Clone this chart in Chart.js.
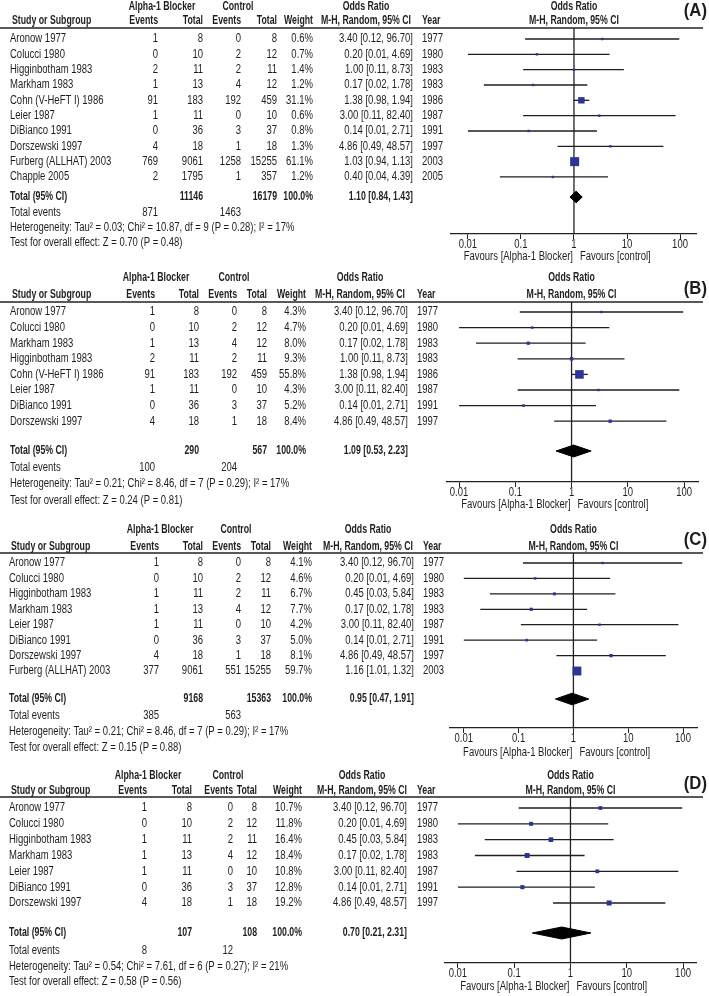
<!DOCTYPE html>
<html>
<head>
<meta charset="utf-8">
<script src="https://cdn.jsdelivr.net/npm/chart.js@4.4.1/dist/chart.umd.min.js"></script>
<style>
  html, body { margin: 0; padding: 0; background: #fff; }
  #wrap { position: relative; width: 709px; height: 996px; overflow: hidden; }
  #wrap canvas { position: absolute; left: 0; }
</style>
</head>
<body>
<div id="wrap"></div>
<script>
// ---- data: panel A (all studies) ----
const studiesA = ["Aronow 1977", "Colucci 1980", "Higginbotham 1983", "Markham 1983", "Cohn (V-HeFT I) 1986", "Leier 1987", "DiBianco 1991", "Dorszewski 1997", "Furberg (ALLHAT) 2003", "Chapple 2005"];
const blockEvA = [1, 0, 2, 1, 91, 1, 0, 4, 769, 2];
const blockNA = [8, 10, 11, 13, 183, 11, 36, 18, 9061, 1795];
const ctrlEvA = [0, 2, 2, 4, 192, 0, 3, 1, 1258, 1];
const ctrlNA = [8, 12, 11, 12, 459, 10, 37, 18, 15255, 357];
const weightA = [0.6, 0.7, 1.4, 1.2, 31.1, 0.6, 0.8, 1.3, 61.1, 1.2];
const orA = [3.40, 0.20, 1.00, 0.17, 1.38, 3.00, 0.14, 4.86, 1.03, 0.40];
const loA = [0.12, 0.01, 0.11, 0.02, 0.98, 0.11, 0.01, 0.49, 0.94, 0.04];
const hiA = [96.70, 4.69, 8.73, 1.78, 1.94, 82.40, 2.71, 48.57, 1.13, 4.39];
const yearA = [1977, 1980, 1983, 1983, 1986, 1987, 1991, 1997, 2003, 2005];
const totNA = [11146, 16179];
const totEvA = [871, 1463];
const pooledA = [1.10, 0.84, 1.43];
const hetA = "Heterogeneity: Tau² = 0.03; Chi² = 10.87, df = 9 (P = 0.28); I² = 17%";
const testA = "Test for overall effect: Z = 0.70 (P = 0.48)";

// ---- data: panel B ----
const studiesB = ["Aronow 1977", "Colucci 1980", "Markham 1983", "Higginbotham 1983", "Cohn (V-HeFT I) 1986", "Leier 1987", "DiBianco 1991", "Dorszewski 1997"];
const blockEvB = [1, 0, 1, 2, 91, 1, 0, 4];
const blockNB = [8, 10, 13, 11, 183, 11, 36, 18];
const ctrlEvB = [0, 2, 4, 2, 192, 0, 3, 1];
const ctrlNB = [8, 12, 12, 11, 459, 10, 37, 18];
const weightB = [4.3, 4.7, 8.0, 9.3, 55.8, 4.3, 5.2, 8.4];
const orB = [3.40, 0.20, 0.17, 1.00, 1.38, 3.00, 0.14, 4.86];
const loB = [0.12, 0.01, 0.02, 0.11, 0.98, 0.11, 0.01, 0.49];
const hiB = [96.70, 4.69, 1.78, 8.73, 1.94, 82.40, 2.71, 48.57];
const yearB = [1977, 1980, 1983, 1983, 1986, 1987, 1991, 1997];
const totNB = [290, 567];
const totEvB = [100, 204];
const pooledB = [1.09, 0.53, 2.23];
const hetB = "Heterogeneity: Tau² = 0.21; Chi² = 8.46, df = 7 (P = 0.29); I² = 17%";
const testB = "Test for overall effect: Z = 0.24 (P = 0.81)";

// ---- data: panel C ----
const studiesC = ["Aronow 1977", "Colucci 1980", "Higginbotham 1983", "Markham 1983", "Leier 1987", "DiBianco 1991", "Dorszewski 1997", "Furberg (ALLHAT) 2003"];
const blockEvC = [1, 0, 1, 1, 1, 0, 4, 377];
const blockNC = [8, 10, 11, 13, 11, 36, 18, 9061];
const ctrlEvC = [0, 2, 2, 4, 0, 3, 1, 551];
const ctrlNC = [8, 12, 11, 12, 10, 37, 18, 15255];
const weightC = [4.1, 4.6, 6.7, 7.7, 4.2, 5.0, 8.1, 59.7];
const orC = [3.40, 0.20, 0.45, 0.17, 3.00, 0.14, 4.86, 1.16];
const loC = [0.12, 0.01, 0.03, 0.02, 0.11, 0.01, 0.49, 1.01];
const hiC = [96.70, 4.69, 5.84, 1.78, 82.40, 2.71, 48.57, 1.32];
const yearC = [1977, 1980, 1983, 1983, 1987, 1991, 1997, 2003];
const totNC = [9168, 15363];
const totEvC = [385, 563];
const pooledC = [0.95, 0.47, 1.91];
const hetC = "Heterogeneity: Tau² = 0.21; Chi² = 8.46, df = 7 (P = 0.29); I² = 17%";
const testC = "Test for overall effect: Z = 0.15 (P = 0.88)";

// ---- data: panel D ----
const studiesD = ["Aronow 1977", "Colucci 1980", "Higginbotham 1983", "Markham 1983", "Leier 1987", "DiBianco 1991", "Dorszewski 1997"];
const blockEvD = [1, 0, 1, 1, 1, 0, 4];
const blockND = [8, 10, 11, 13, 11, 36, 18];
const ctrlEvD = [0, 2, 2, 4, 0, 3, 1];
const ctrlND = [8, 12, 11, 12, 10, 37, 18];
const weightD = [10.7, 11.8, 16.4, 18.4, 10.8, 12.8, 19.2];
const orD = [3.40, 0.20, 0.45, 0.17, 3.00, 0.14, 4.86];
const loD = [0.12, 0.01, 0.03, 0.02, 0.11, 0.01, 0.49];
const hiD = [96.70, 4.69, 5.84, 1.78, 82.40, 2.71, 48.57];
const yearD = [1977, 1980, 1983, 1983, 1987, 1991, 1997];
const totND = [107, 108];
const totEvD = [8, 12];
const pooledD = [0.70, 0.21, 2.31];
const hetD = "Heterogeneity: Tau² = 0.54; Chi² = 7.61, df = 6 (P = 0.27); I² = 21%";
const testD = "Test for overall effect: Z = 0.58 (P = 0.56)";

const tickVals = [0.01, 0.1, 1, 10, 100];

// ---- layout (pixel positions, page coordinates) ----
const layouts = [
  { letter: "(A)", top: 0, height: 266, hdr1: 7, hdr2: 21, sep: 28, row0: 39, step: 15.33, total: 197, ev: 213, het: 228, test: 243, axis: 234, fav: 257, let: 11,
    axL: 451, axR: 696, xMin: 0.0048, xMax: 200,
    col: { name: 10, evA: 158, nA: 203, evC: 241, nC: 277, w: 313, or: 413, yr: 422, hBlock: 162, hCtrl: 238, hOr: 366 } },
  { letter: "(B)", top: 266, height: 250, hdr1: 278, hdr2: 295, sep: 302, row0: 312, step: 15.6, total: 451, ev: 468, het: 484, test: 501, axis: 482, fav: 505, let: 289,
    axL: 447, axR: 698, xMin: 0.0061, xMax: 177,
    col: { name: 10, evA: 155, nA: 199, evC: 237, nC: 267, w: 306, or: 408, yr: 417, hBlock: 156, hCtrl: 234, hOr: 360 } },
  { letter: "(C)", top: 516, height: 248, hdr1: 530, hdr2: 547, sep: 553, row0: 563, step: 15.43, total: 699, ev: 716, het: 732, test: 748, axis: 728, fav: 753, let: 540,
    axL: 450, axR: 697, xMin: 0.0056, xMax: 180,
    col: { name: 9, evA: 159, nA: 203, evC: 241, nC: 271, w: 312, or: 414, yr: 423, hBlock: 160, hCtrl: 236, hOr: 368 } },
  { letter: "(D)", top: 764, height: 232, hdr1: 776, hdr2: 791, sep: 797, row0: 808, step: 15.83, total: 933, ev: 951, het: 967, test: 982, axis: 963, fav: 987, let: 784,
    axL: 445, axR: 696, xMin: 0.0059, xMax: 170,
    col: { name: 9, evA: 147, nA: 192, evC: 233, nC: 257, w: 302, or: 407, yr: 417, hBlock: 148, hCtrl: 228, hOr: 362 } },
];

const panels = [
  { studies: studiesA, evA: blockEvA, nA: blockNA, evC: ctrlEvA, nC: ctrlNA, w: weightA, or: orA, lo: loA, hi: hiA, yr: yearA, totN: totNA, totEv: totEvA, pooled: pooledA, het: hetA, test: testA },
  { studies: studiesB, evA: blockEvB, nA: blockNB, evC: ctrlEvB, nC: ctrlNB, w: weightB, or: orB, lo: loB, hi: hiB, yr: yearB, totN: totNB, totEv: totEvB, pooled: pooledB, het: hetB, test: testB },
  { studies: studiesC, evA: blockEvC, nA: blockNC, evC: ctrlEvC, nC: ctrlNC, w: weightC, or: orC, lo: loC, hi: hiC, yr: yearC, totN: totNC, totEv: totEvC, pooled: pooledC, het: hetC, test: testC },
  { studies: studiesD, evA: blockEvD, nA: blockND, evC: ctrlEvD, nC: ctrlND, w: weightD, or: orD, lo: loD, hi: hiD, yr: yearD, totN: totND, totEv: totEvD, pooled: pooledD, het: hetD, test: testD },
];

const TXT = "#1e1e1e";
const BLUE = "#2b3597";
const FS = 12.5;     // table font size
const SX = 0.76;     // narrow squeeze, regular
const SXB = 0.70;    // narrow squeeze, bold
const TICK_LEN = 5;
const fmt = (v) => v.toFixed(2);
const ciText = (o, l, h) => `${fmt(o)} [${fmt(l)}, ${fmt(h)}]`;

// draw text squeezed horizontally (Arial Narrow look)
function drawText(ctx, s, x, y, align, bold, size, sx) {
  ctx.save();
  ctx.font = `${bold ? "bold " : ""}${size || FS}px "Liberation Sans", Arial, sans-serif`;
  ctx.fillStyle = TXT;
  ctx.textAlign = align;
  ctx.textBaseline = "middle";
  ctx.translate(x, y);
  ctx.scale(sx || (bold ? SXB : SX), 1);
  ctx.fillText(String(s), 0, 0);
  ctx.restore();
}

function makeTable(d, L) {
  return {
    id: "table",
    afterDraw(chart) {
      const ctx = chart.ctx;
      const ys = chart.scales.y;
      const xs = chart.scales.x;
      const c = L.col;
      const o = L.top;
      const x1 = xs.getPixelForValue(1);

      // headers
      drawText(ctx, "Alpha-1 Blocker", c.hBlock, L.hdr1 - o, "center", true);
      drawText(ctx, "Control", c.hCtrl, L.hdr1 - o, "center", true);
      drawText(ctx, "Odds Ratio", c.hOr, L.hdr1 - o, "center", true);
      drawText(ctx, "Odds Ratio", x1, L.hdr1 - o, "center", true);
      drawText(ctx, "Study or Subgroup", c.name + 2, L.hdr2 - o, "left", true);
      drawText(ctx, "Events", c.evA, L.hdr2 - o, "right", true);
      drawText(ctx, "Total", c.nA, L.hdr2 - o, "right", true);
      drawText(ctx, "Events", c.evC, L.hdr2 - o, "right", true);
      drawText(ctx, "Total", c.nC, L.hdr2 - o, "right", true);
      drawText(ctx, "Weight", c.w, L.hdr2 - o, "right", true);
      drawText(ctx, "M-H, Random, 95% CI", c.hOr, L.hdr2 - o, "center", true);
      drawText(ctx, "Year", c.yr, L.hdr2 - o, "left", true);
      drawText(ctx, "M-H, Random, 95% CI", x1, L.hdr2 - o, "center", true);
      drawText(ctx, L.letter, 707, L.let - o, "right", true, 19, 0.88);

      ctx.save();
      ctx.strokeStyle = "#222";
      ctx.lineWidth = 1.5;
      ctx.beginPath();
      ctx.moveTo(0, L.sep - o);
      ctx.lineTo(703, L.sep - o);
      ctx.stroke();
      ctx.restore();

      // study rows
      d.studies.forEach((s, i) => {
        const y = ys.getPixelForValue(i);
        drawText(ctx, s, c.name, y, "left");
        drawText(ctx, d.evA[i], c.evA, y, "right");
        drawText(ctx, d.nA[i], c.nA, y, "right");
        drawText(ctx, d.evC[i], c.evC, y, "right");
        drawText(ctx, d.nC[i], c.nC, y, "right");
        drawText(ctx, d.w[i].toFixed(1) + "%", c.w, y, "right");
        drawText(ctx, ciText(d.or[i], d.lo[i], d.hi[i]), c.or, y, "right");
        drawText(ctx, d.yr[i], c.yr, y, "left");
      });

      // total row
      const yT = ys.getPixelForValue(chart.$totalRow);
      drawText(ctx, "Total (95% CI)", c.name, yT, "left", true);
      drawText(ctx, d.totN[0], c.nA, yT, "right", true);
      drawText(ctx, d.totN[1], c.nC, yT, "right", true);
      drawText(ctx, "100.0%", c.w, yT, "right", true);
      drawText(ctx, ciText(d.pooled[0], d.pooled[1], d.pooled[2]), c.or, yT, "right", true);

      drawText(ctx, "Total events", c.name, L.ev - o, "left");
      drawText(ctx, d.totEv[0], c.evA, L.ev - o, "right");
      drawText(ctx, d.totEv[1], c.evC, L.ev - o, "right");
      drawText(ctx, d.het, c.name, L.het - o, "left");
      drawText(ctx, d.test, c.name, L.test - o, "left");

      // tick labels at the log scale's tick positions (narrow face)
      const yAxis = xs.top;
      xs.ticks.forEach((t) => {
        drawText(ctx, String(t.value), xs.getPixelForValue(t.value), yAxis + 11, "center");
      });

      drawText(ctx, "Favours [Alpha-1 Blocker]", x1 - 1, L.fav - o, "right");
      drawText(ctx, "Favours [control]", x1 + 6, L.fav - o, "left");
    },
  };
}

const wrap = document.getElementById("wrap");

panels.forEach((d, k) => {
  const L = layouts[k];
  const canvas = document.createElement("canvas");
  canvas.width = 709;
  canvas.height = L.height;
  canvas.style.top = L.top + "px";
  canvas.style.width = "709px";
  canvas.style.height = L.height + "px";
  wrap.appendChild(canvas);

  const yMin = -(L.row0 - L.sep) / L.step;
  const yMax = (L.axis - L.row0) / L.step;
  const totalRow = (L.total - L.row0) / L.step;
  const dh = 0.38; // diamond half height (rows)
  const [pe, pl, ph] = d.pooled;

  const datasets = [];
  // point estimates, square size from weight
  datasets.push({
    type: "scatter",
    order: 0,
    data: d.or.map((v, i) => ({ x: v, y: i })),
    pointStyle: "rect",
    pointRadius: d.w.map((w) => Math.max(2.4, 1.15 * Math.sqrt(w)) / Math.SQRT2),
    pointBackgroundColor: BLUE,
    pointBorderWidth: 0,
  });
  // pooled diamond
  datasets.push({
    type: "line",
    order: 1,
    data: [
      { x: pl, y: totalRow }, { x: pe, y: totalRow - dh }, { x: ph, y: totalRow },
      { x: pe, y: totalRow + dh }, { x: pl, y: totalRow },
    ],
    borderColor: "#000",
    backgroundColor: "#000",
    borderWidth: 1,
    pointRadius: 0,
    fill: "shape",
    tension: 0,
  });
  // confidence intervals
  d.lo.forEach((l, i) => {
    datasets.push({
      type: "line",
      order: 2,
      data: [{ x: l, y: i }, { x: d.hi[i], y: i }],
      borderColor: "#1e1e1e",
      borderWidth: 1.3,
      pointRadius: 0,
    });
  });
  // line of no effect
  datasets.push({
    type: "line",
    order: 3,
    data: [{ x: 1, y: yMin }, { x: 1, y: yMax }],
    borderColor: "#222",
    borderWidth: 1.3,
    pointRadius: 0,
  });

  const chart = new Chart(canvas, {
    type: "scatter",
    data: { datasets },
    options: {
      responsive: false,
      animation: false,
      events: [],
      layout: {
        padding: {
          left: L.axL,
          right: 709 - L.axR,
          top: L.sep - L.top,
          bottom: L.height - (L.axis - L.top) - TICK_LEN,
        },
      },
      plugins: { legend: { display: false }, tooltip: { enabled: false } },
      scales: {
        x: {
          type: "logarithmic",
          min: L.xMin,
          max: L.xMax,
          afterBuildTicks: (s) => { s.ticks = tickVals.map((v) => ({ value: v })); },
          ticks: { display: false, autoSkip: false },
          grid: { display: true, drawOnChartArea: false, drawTicks: true, tickLength: TICK_LEN, color: "#222" },
          border: { display: true, color: "#222", width: 1.3 },
        },
        y: { type: "linear", display: false, reverse: true, min: yMin, max: yMax },
      },
    },
    plugins: [makeTable(d, L)],
  });
  chart.$totalRow = totalRow;
  chart.update();
});
</script>
</body>
</html>
